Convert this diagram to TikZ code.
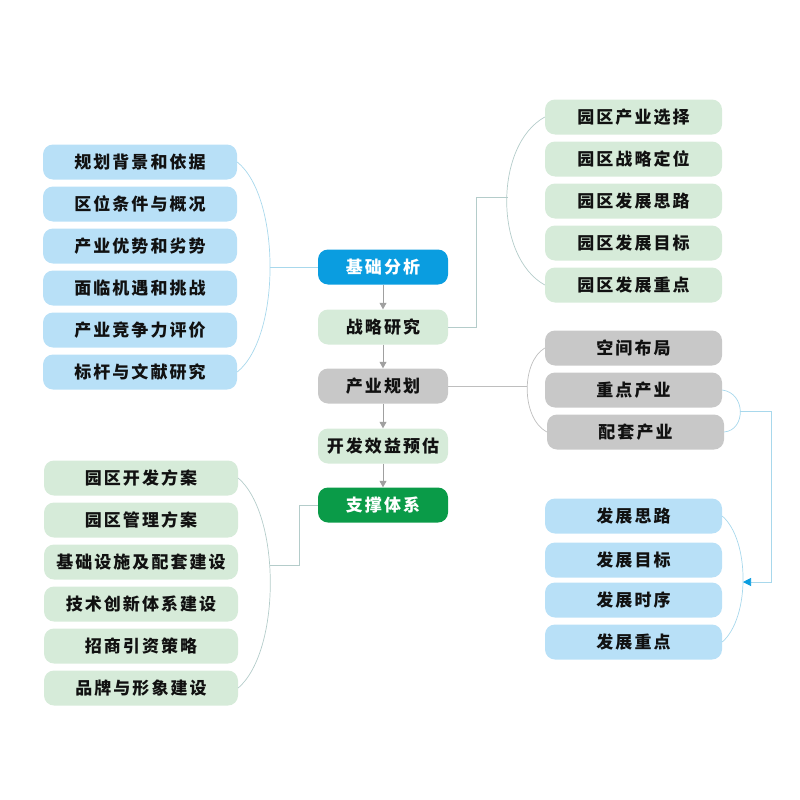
\documentclass[tikz,border=0pt]{standalone}
\usepackage{fontspec}
\newfontfamily\cjk[LetterSpace=12]{Noto Sans CJK SC}
\usetikzlibrary{arrows.meta}
\definecolor{lblue}{HTML}{B8E0F7}
\definecolor{cblue}{HTML}{0A9DE0}
\definecolor{lgreen}{HTML}{D6EBD9}
\definecolor{dgreen}{HTML}{0A9B48}
\definecolor{lgray}{HTML}{C8C8C8}
\definecolor{txt}{HTML}{111111}
\definecolor{cvblue}{HTML}{A8D8EC}
\definecolor{cvteal}{HTML}{B4CCCA}
\definecolor{cvgray}{HTML}{BEBEBE}
\definecolor{arrgray}{HTML}{A0A0A0}
\tikzset{
  box/.style={rounded corners=10pt, minimum height=35pt, inner sep=0pt, font=\cjk\bfseries\fontsize{17}{19}\selectfont, text=txt},
  sidebox/.style={box, minimum width=194pt},
  rbox/.style={box, minimum width=177pt},
  cbox/.style={box, minimum width=130pt},
  flow/.style={draw=arrgray, line width=0.8pt, -{Triangle[length=6.5pt,width=7pt]}},
  link/.style={line width=0.7pt},
}
\begin{document}
\begin{tikzpicture}[x=1pt,y=-1pt]
\useasboundingbox (0,0) rectangle (800,800);
% center column
\node[cbox, fill=cblue, text=white] (b1) at (383,267) {基础分析};
\node[cbox, fill=lgreen] (b2) at (383,327) {战略研究};
\node[cbox, fill=lgray] (b3) at (383,386) {产业规划};
\node[cbox, fill=lgreen] (b4) at (383,446) {开发效益预估};
\node[cbox, fill=dgreen, text=white] (b5) at (383,505) {支撑体系};
\draw[flow] (b1.south) -- (b2.north);
\draw[flow] (b2.south) -- (b3.north);
\draw[flow] (b3.south) -- (b4.north);
\draw[flow] (b4.south) -- (b5.north);
% left top (blue)
\node[sidebox, fill=lblue] (l1) at (140,162) {规划背景和依据};
\node[sidebox, fill=lblue] (l2) at (140,204) {区位条件与概况};
\node[sidebox, fill=lblue] (l3) at (140,246) {产业优势和劣势};
\node[sidebox, fill=lblue] (l4) at (140,288) {面临机遇和挑战};
\node[sidebox, fill=lblue] (l5) at (140,330) {产业竞争力评价};
\node[sidebox, fill=lblue] (l6) at (140,372) {标杆与文献研究};
\draw[link, draw=cvblue] (l1.east) .. controls (281,197) and (281,337) .. (l6.east);
\coordinate (lc) at (269.5,267);
\draw[link, draw=cvblue] (b1.west) -- (lc);
% right top (green)
\node[rbox, fill=lgreen] (r1) at (633.5,117) {园区产业选择};
\node[rbox, fill=lgreen] (r2) at (633.5,159) {园区战略定位};
\node[rbox, fill=lgreen] (r3) at (633.5,201) {园区发展思路};
\node[rbox, fill=lgreen] (r4) at (633.5,243) {园区发展目标};
\node[rbox, fill=lgreen] (r5) at (633.5,285) {园区发展重点};
\draw[link, draw=cvteal] (r1.west) .. controls (494,145) and (494,257) .. (r5.west);
\coordinate (rc) at (507.5,197);
\draw[link, draw=cvteal] (b2.east) -| (476,197) -- (rc);
% right middle (gray)
\node[rbox, fill=lgray] (g1) at (633.5,348) {空间布局};
\node[rbox, fill=lgray] (g2) at (633.5,390) {重点产业};
\node[rbox, fill=lgray] (g3) at (635.5,432) {配套产业};
\draw[link, draw=cvgray] (g1.west) .. controls (521,362) and (521,418) .. (g3.west);
\coordinate (gc) at (526.5,386);
\draw[link, draw=cvgray] (b3.east) -- (gc);
\draw[link, draw=cvblue] (g2.east) .. controls (746,393) and (746,430) .. (g3.east);
% right bottom (blue)
\node[rbox, fill=lblue] (d1) at (633.5,516) {发展思路};
\node[rbox, fill=lblue] (d2) at (633.5,560) {发展目标};
\node[rbox, fill=lblue] (d3) at (633.5,600) {发展时序};
\node[rbox, fill=lblue] (d4) at (633.5,642) {发展重点};
\draw[link, draw=cvblue] (d1.east) .. controls (750,540) and (750,618) .. (d4.east);
\coordinate (gr) at (739.5,411.5);
\coordinate (dc) at (743,582);
\draw[link, draw=cvblue, -{Triangle[length=8pt,width=8pt,color=cblue]}] (gr) -- (771,411.5) |- (dc);
% left bottom (green)
\node[sidebox, fill=lgreen] (m1) at (141,478) {园区开发方案};
\node[sidebox, fill=lgreen] (m2) at (141,520) {园区管理方案};
\node[sidebox, fill=lgreen] (m3) at (141,562) {基础设施及配套建设};
\node[sidebox, fill=lgreen] (m4) at (141,604) {技术创新体系建设};
\node[sidebox, fill=lgreen] (m5) at (141,646) {招商引资策略};
\node[sidebox, fill=lgreen] (m6) at (141,688) {品牌与形象建设};
\draw[link, draw=cvteal] (m1.east) .. controls (281,515) and (281,651) .. (m6.east);
\coordinate (mc) at (270,565);
\draw[link, draw=cvteal] (b5.west) -| (299,565) -- (mc);
\end{tikzpicture}
\end{document}
